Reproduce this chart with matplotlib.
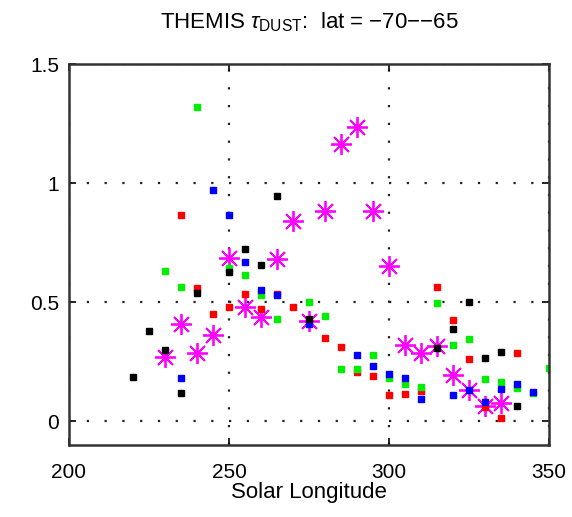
import matplotlib
matplotlib.use('Agg')
import matplotlib.pyplot as plt

plt.rcParams['font.family'] = ['Liberation Sans', 'DejaVu Sans']
plt.rcParams['mathtext.fontset'] = 'custom'
plt.rcParams['mathtext.rm'] = 'Liberation Sans'
plt.rcParams['mathtext.it'] = 'Liberation Sans:italic'

# tau dust per series, by solar longitude
ls_star = [230, 235, 240, 245, 250, 255, 260, 265, 270, 275, 280, 285, 290, 295,
           300, 305, 310, 315, 320, 325, 330, 335]
tau_star = [0.27, 0.41, 0.287, 0.364, 0.685, 0.48, 0.44, 0.68, 0.842, 0.42, 0.883,
            1.166, 1.236, 0.883, 0.653, 0.32, 0.285, 0.315, 0.194, 0.13, 0.064, 0.075]

ls_red = [235, 240, 245, 250, 255, 260, 265, 270, 280, 285, 290, 295, 300, 305,
          310, 315, 320, 325, 330, 335, 340]
tau_red = [0.866, 0.56, 0.45, 0.48, 0.534, 0.47, 0.535, 0.478, 0.35, 0.31, 0.206,
           0.19, 0.11, 0.113, 0.128, 0.562, 0.424, 0.26, 0.06, 0.013, 0.287]

ls_green = [230, 235, 240, 250, 255, 260, 265, 275, 280, 285, 290, 295, 300, 305,
            310, 315, 320, 325, 330, 335, 340, 345, 350]
tau_green = [0.633, 0.566, 1.32, 0.643, 0.615, 0.53, 0.43, 0.503, 0.443, 0.218, 0.218,
             0.279, 0.18, 0.155, 0.145, 0.497, 0.32, 0.347, 0.179, 0.165, 0.14, 0.12, 0.222]

ls_blue = [235, 245, 250, 255, 260, 265, 275, 290, 295, 300, 305, 310, 320, 325,
           330, 335, 340, 345]
tau_blue = [0.18, 0.97, 0.866, 0.67, 0.55, 0.53, 0.41, 0.28, 0.234, 0.197, 0.18,
            0.095, 0.11, 0.13, 0.08, 0.137, 0.155, 0.124]

ls_black = [220, 225, 230, 235, 240, 250, 255, 260, 265, 275, 315, 320, 325, 330,
            335, 340]
tau_black = [0.187, 0.38, 0.298, 0.117, 0.54, 0.625, 0.725, 0.657, 0.946, 0.43,
             0.308, 0.388, 0.5, 0.266, 0.29, 0.064]

fig = plt.figure(figsize=(5.72, 5.17), dpi=100)
ax = fig.add_axes([0.1206, 0.139, 0.8394, 0.737])

# matlab style '*' = plus and cross together
ax.plot(ls_star, tau_star, marker=(8, 2, 0), color='#ff00ff', markersize=15,
        markeredgewidth=1.3, linestyle='none')
for ls, tau, c in [(ls_red, tau_red, '#ff0000'), (ls_green, tau_green, '#00ee00'),
                   (ls_blue, tau_blue, '#0000ff'), (ls_black, tau_black, 'black')]:
    ax.plot(ls, tau, 's', color=c, markersize=4.5, linestyle='none')

ax.set_xlim(200, 350)
ax.set_ylim(-0.1, 1.5)
ax.set_xticks([200, 250, 300, 350])
ax.set_yticks([0, 0.5, 1, 1.5])
ax.set_yticklabels(['0', '0.5', '1', '1.5'])
ax.grid(True, linestyle=(0, (1, 7)), color='#222222', linewidth=1.6)
ax.tick_params(direction='in', labelsize=15, length=5, width=1.2, top=True, right=True,
               pad=7)
ax.tick_params(axis='x', pad=13)
for s in ax.spines.values():
    s.set_linewidth(1.8)
    s.set_color('#333333')

ax.set_xlabel('Solar Longitude', fontsize=16, labelpad=0)
ax.set_title(r'THEMIS $\tau_{\mathrm{DUST}}$:  lat = $-$70$-$$-$65', fontsize=16, pad=26)

fig.savefig('out.png', dpi=100)
